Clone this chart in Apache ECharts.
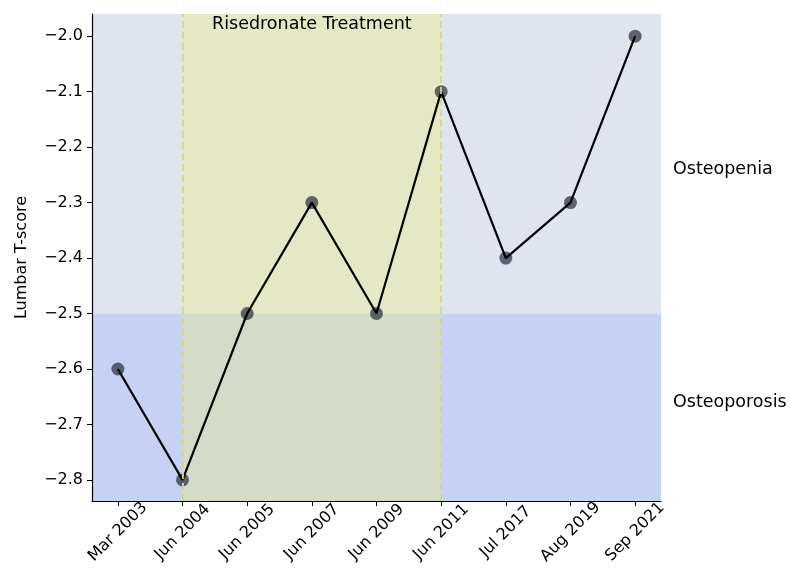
<!DOCTYPE html>
<html>
<head>
<meta charset="utf-8">
<script src="https://cdn.jsdelivr.net/npm/echarts@6/dist/echarts.min.js"></script>
<style>
  html, body { margin: 0; padding: 0; background: #ffffff; }
  #chart { width: 791px; height: 583px; }
</style>
</head>
<body>
<div id="chart"></div>
<script>
// data
const categories = ['Mar 2003', 'Jun 2004', 'Jun 2005', 'Jun 2007', 'Jun 2009',
                    'Jun 2011', 'Jul 2017', 'Aug 2019', 'Sep 2021'];
const tScores = [-2.6, -2.8, -2.5, -2.3, -2.5, -2.1, -2.4, -2.3, -2.0];
const yTicks = [-2.8, -2.7, -2.6, -2.5, -2.4, -2.3, -2.2, -2.1, -2.0];
const xTicks = [0, 1, 2, 3, 4, 5, 6, 7, 8];
const treatment = [1, 5];          // Jun 2004 .. Jun 2011
const osteoporosisLimit = -2.5;

const yMin = -2.838, yMax = -1.96;
const xMin = -0.4, xMax = 8.4;

const font = 'DejaVu Sans';
const points = tScores.map((v, i) => [i, v]);

let chart = echarts.init(document.getElementById('chart'));

chart.setOption({
    animation: false,
    textStyle: { fontFamily: font },
    grid: { left: 92, right: 130, top: 14, bottom: 82 },
    xAxis: {
        type: 'value',
        min: xMin,
        max: xMax,
        z: 10,
        axisLine: { onZero: false, lineStyle: { color: '#000', width: 1.2 } },
        axisTick: { customValues: xTicks, length: 5, lineStyle: { color: '#000' } },
        axisLabel: {
            customValues: xTicks,
            rotate: 45,
            align: 'center',
            verticalAlign: 'middle',
            color: '#000',
            fontSize: 16,
            margin: 31,
            formatter: v => categories[Math.round(v)]
        },
        splitLine: { show: false }
    },
    yAxis: {
        type: 'value',
        min: yMin,
        max: yMax,
        z: 10,
        name: 'Lumbar T-score',
        nameLocation: 'middle',
        nameGap: 62,
        nameTextStyle: { color: '#000', fontSize: 16 },
        axisLine: { show: true, onZero: false, lineStyle: { color: '#000', width: 1.2 } },
        axisTick: { show: true, customValues: yTicks, length: 5, lineStyle: { color: '#000' } },
        axisLabel: {
            customValues: yTicks,
            color: '#000',
            fontSize: 16,
            margin: 9,
            formatter: v => v.toFixed(1).replace('-', '\u2212')
        },
        splitLine: { show: false }
    },
    series: [
        {   // background zones
            type: 'scatter',
            data: [],
            silent: true,
            z: 1,
            markArea: {
                silent: true,
                label: { show: false },
                data: [
                    [{ xAxis: xMin, yAxis: osteoporosisLimit, itemStyle: { color: '#dfe4ef' } },
                     { xAxis: xMax, yAxis: yMax }],
                    [{ xAxis: xMin, yAxis: yMin, itemStyle: { color: '#c5d2f3' } },
                     { xAxis: xMax, yAxis: osteoporosisLimit }]
                ]
            }
        },
        {   // treatment span
            type: 'scatter',
            data: [],
            silent: true,
            z: 2,
            markArea: {
                silent: true,
                itemStyle: { color: 'rgba(240,240,120,0.35)' },
                label: {
                    show: true,
                    position: 'insideTop',
                    distance: 1,
                    color: '#000',
                    fontSize: 17.5,
                    fontFamily: font
                },
                data: [[{ xAxis: treatment[0], yAxis: yMin, name: 'Risedronate Treatment' },
                        { xAxis: treatment[1], yAxis: yMax }]]
            },
            markLine: {
                silent: true,
                symbol: 'none',
                label: { show: false },
                lineStyle: { color: 'rgba(215,215,120,0.9)', type: [7, 4], width: 2 },
                data: treatment.map(t => ({ xAxis: t }))
            }
        },
        {
            type: 'scatter',
            data: points,
            symbolSize: 13,
            z: 3,
            itemStyle: { color: 'rgba(15,20,40,0.78)' }
        },
        {
            type: 'line',
            data: points,
            showSymbol: false,
            z: 4,
            lineStyle: { color: '#000', width: 2.2 }
        }
    ],
    graphic: [
        { type: 'text', left: 673, top: 160,
          style: { text: 'Osteopenia', fill: '#000', font: '17.5px "DejaVu Sans"' } },
        { type: 'text', left: 673, top: 393,
          style: { text: 'Osteoporosis', fill: '#000', font: '17.5px "DejaVu Sans"' } }
    ]
});
</script>
</body>
</html>
